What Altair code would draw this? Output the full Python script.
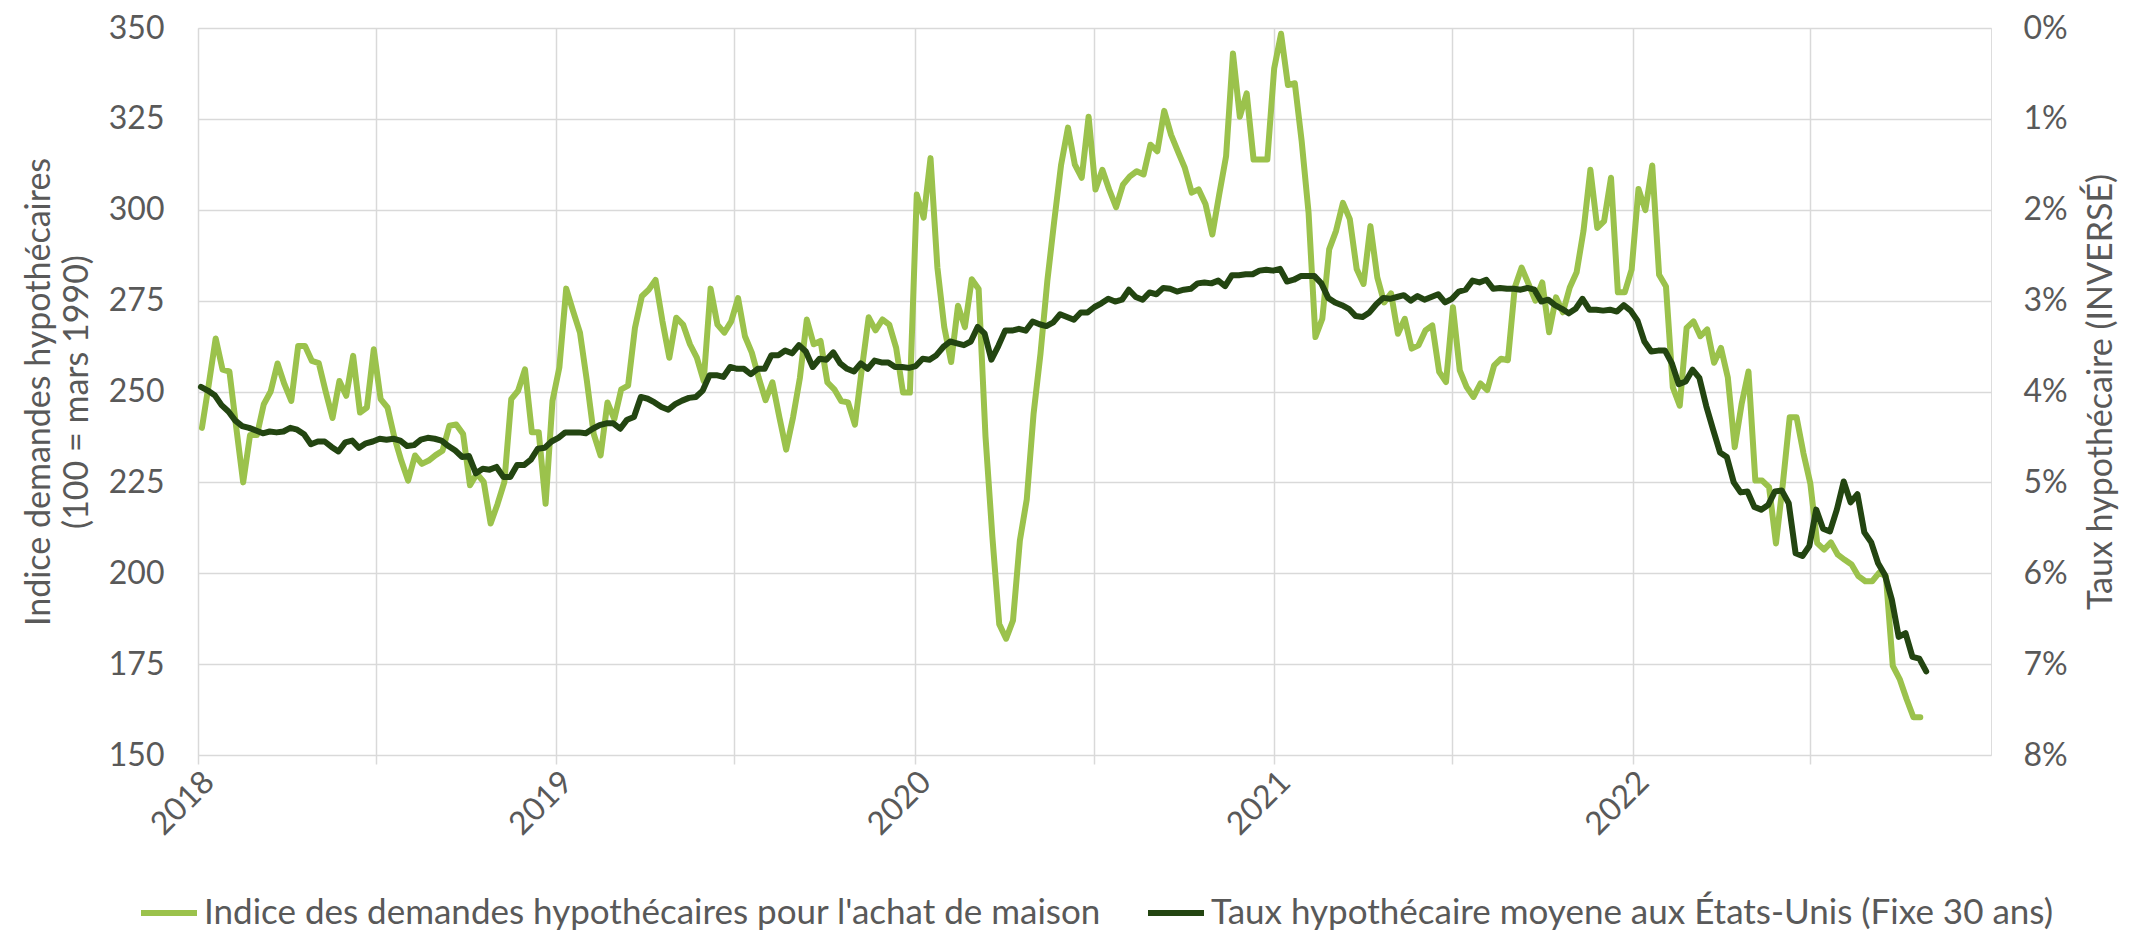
import altair as alt
import pandas as pd

serie_indice = "Indice des demandes hypothécaires pour l'achat de maison"
serie_taux = "Taux hypothécaire moyene aux États-Unis (Fixe 30 ans)"

# Indice des demandes hypothécaires (hebdomadaire)
indice_2018 = [240, 252, 264.6, 256, 255.5, 240, 225, 238, 238, 246.5, 250, 257.7, 252, 247.4,
               262.5, 262.5, 258.4, 257.8, 250, 242.7, 252.9, 248.8, 259.8, 244.2, 245.6, 261.6,
               247.9, 245.6, 237.4, 231, 225.5, 232.4, 230.1, 231, 232.5, 233.7, 240.6, 240.9,
               238.3, 224.2, 227.4, 225.1, 213.7, 219, 225.1, 247.9, 250.2, 256.1, 238.8, 238.8,
               219.1, 247.4, 256.6]
indice_2019 = [278.3, 272.1, 266.2, 253, 238.3, 232.4, 247, 242.4, 250.6, 251.6, 267.5, 276.2,
               278, 280.7, 269.3, 259.3, 270.3, 268.4, 263, 259.3, 252.9, 278.3, 268.4, 266.2,
               269.3, 275.7, 265.2, 260.7, 253.8, 247.6, 252.5, 243, 234, 242.9, 253.8, 269.8,
               263, 263.9, 252.5, 250.6, 247.4, 247, 240.9, 256.1, 270.4, 266.8, 269.8, 268.4,
               262, 249.7, 249.7]
indice_2020 = [304.2, 297.8, 314.2, 284.1, 267.7, 258.1, 273.6, 267.7, 280.9, 278.2, 237.6, 210,
               186, 182, 187, 209, 220.3, 244, 260.4, 280.5, 296.9, 312.4, 322.6, 312.4, 308.8,
               325.6, 305.6, 311, 305.5, 300.7, 306.9, 309.2, 310.6, 309.7, 317.9, 316.1, 327.2,
               320.6, 316, 311.5, 304.7, 305.6, 301.6, 293.2, 304.2, 314.7, 343, 325.6, 332,
               313.8, 313.8, 313.8]
indice_2021 = [338.9, 348.4, 334.3, 334.8, 318.8, 299.2, 265, 270, 289.1, 294.2, 301.9, 297.4,
               283.7, 279.6, 295.5, 281.4, 274.5, 277, 265.9, 270, 261.8, 262.7, 266.8, 268.2,
               255.4, 252.6, 273.2, 255.8, 251.2, 248.5, 252.2, 250.4, 257.2, 259, 258.6, 278.6,
               284.1, 279.6, 275, 280, 266.3, 275.9, 271.8, 278.6, 282.8, 294.2, 311, 295, 296.9,
               308.8, 277.3, 277.3]
indice_2022 = [283.5, 305.7, 299.9, 312.2, 282.1, 278.9, 251.1, 246.1, 267.5, 269.3, 265.2, 267.1,
               257.9, 262, 253.8, 234.7, 246.5, 255.5, 225.5, 225.5, 223.7, 208.2, 224.6, 242.9,
               242.9, 233, 224.7, 208.3, 206.5, 208.5, 205.1, 203.7, 202.4, 199.2, 197.8, 197.8,
               200.1, 199.2, 174.5, 170.9, 165.4, 160.4, 160.4]

# Taux hypothécaire fixe 30 ans (%), hebdomadaire
taux_2018 = [3.95, 3.99, 4.04, 4.15, 4.22, 4.32, 4.38, 4.40, 4.43, 4.46, 4.44, 4.45, 4.44, 4.40,
             4.42, 4.47, 4.58, 4.55, 4.55, 4.61, 4.66, 4.56, 4.54, 4.62, 4.57, 4.55, 4.52, 4.53,
             4.52, 4.54, 4.60, 4.59, 4.53, 4.51, 4.52, 4.54, 4.60, 4.65, 4.72, 4.71, 4.90, 4.85,
             4.86, 4.83, 4.94, 4.94, 4.81, 4.81, 4.75, 4.63, 4.62, 4.55]
taux_2019 = [4.51, 4.45, 4.45, 4.45, 4.46, 4.41, 4.37, 4.35, 4.35, 4.41, 4.31, 4.28, 4.06, 4.08,
             4.12, 4.17, 4.20, 4.14, 4.10, 4.07, 4.06, 3.99, 3.82, 3.82, 3.84, 3.73, 3.75, 3.75,
             3.81, 3.75, 3.75, 3.60, 3.60, 3.55, 3.58, 3.49, 3.56, 3.73, 3.64, 3.65, 3.57, 3.69,
             3.75, 3.78, 3.69, 3.75, 3.66, 3.68, 3.68, 3.73, 3.73, 3.74]
taux_2020 = [3.72, 3.64, 3.65, 3.60, 3.51, 3.45, 3.47, 3.49, 3.45, 3.29, 3.36, 3.65, 3.50, 3.33,
             3.33, 3.31, 3.33, 3.23, 3.26, 3.28, 3.24, 3.15, 3.18, 3.21, 3.13, 3.13, 3.07, 3.03,
             2.98, 3.01, 2.99, 2.88, 2.96, 2.99, 2.91, 2.93, 2.86, 2.87, 2.90, 2.88, 2.87, 2.81,
             2.80, 2.81, 2.78, 2.84, 2.72, 2.72, 2.71, 2.71, 2.67, 2.66, 2.67]
taux_2021 = [2.65, 2.79, 2.77, 2.73, 2.73, 2.73, 2.81, 2.97, 3.02, 3.05, 3.09, 3.17, 3.18, 3.13,
             3.04, 2.97, 2.98, 2.96, 2.94, 3.00, 2.95, 2.99, 2.96, 2.93, 3.02, 2.98, 2.90, 2.88,
             2.78, 2.80, 2.77, 2.87, 2.86, 2.87, 2.87, 2.88, 2.86, 2.88, 3.01, 2.99, 3.05, 3.09,
             3.14, 3.09, 2.98, 3.10, 3.10, 3.11, 3.10, 3.12, 3.05, 3.11]
taux_2022 = [3.22, 3.45, 3.56, 3.55, 3.55, 3.69, 3.92, 3.89, 3.76, 3.85, 4.16, 4.42, 4.67, 4.72,
             5.00, 5.11, 5.10, 5.27, 5.30, 5.25, 5.10, 5.09, 5.23, 5.78, 5.81, 5.70, 5.30, 5.51,
             5.54, 5.30, 4.99, 5.22, 5.13, 5.55, 5.66, 5.89, 6.02, 6.29, 6.70, 6.66, 6.92, 6.94,
             7.08]

indice = indice_2018 + indice_2019 + indice_2020 + indice_2021 + indice_2022
taux = taux_2018 + taux_2019 + taux_2020 + taux_2021 + taux_2022

dates_indice = pd.date_range("2018-01-05", periods=len(indice), freq="7D").strftime("%Y-%m-%d")
dates_taux = pd.date_range("2018-01-04", periods=len(taux), freq="7D").strftime("%Y-%m-%d")

df_i = pd.DataFrame({"date": list(dates_indice), "valeur": indice, "serie": serie_indice})
df_t = pd.DataFrame({"date": list(dates_taux), "taux": [t / 100 for t in taux], "serie": serie_taux})

grid_dates = [alt.DateTime(year=y, month=m, date=1, utc=True)
              for y in [2018, 2019, 2020, 2021, 2022] for m in [1, 7]]
left_ticks = [150, 175, 200, 225, 250, 275, 300, 325, 350]
right_ticks = [0, 0.01, 0.02, 0.03, 0.04, 0.05, 0.06, 0.07, 0.08]

GREEN = "#9BC24C"
DARK = "#234511"
TXT = "#595959"
GRID = "#D9D9D9"
FONT = "Lato"
TICK_FS = 32
TITLE_FS = 34
LEG_FS = 35

x_enc = alt.X(
    "date:T",
    scale=alt.Scale(type="utc",
                    domain=[alt.DateTime(year=2018, month=1, date=1, utc=True),
                            alt.DateTime(year=2023, month=1, date=1, utc=True)]),
    axis=alt.Axis(values=grid_dates,
                  labelExpr="utcmonth(datum.value) == 0 ? utcFormat(datum.value, '%Y') : ''",
                  labelAngle=-45, labelAlign="right", labelBaseline="top",
                  grid=True, gridColor=GRID, gridWidth=1.5,
                  ticks=True, tickSize=9, tickColor=GRID, tickWidth=1.5,
                  domain=False, title=None, labelPadding=2,
                  labelFontSize=TICK_FS, labelColor=TXT, labelFont=FONT),
)

color_enc = alt.Color(
    "serie:N",
    scale=alt.Scale(domain=[serie_indice, serie_taux], range=[GREEN, DARK]),
    legend=alt.Legend(title=None, orient="none", legendX=-60, legendY=854,
                      direction="horizontal", columns=2, columnPadding=34,
                      symbolType="stroke", symbolSize=3136, symbolStrokeWidth=6,
                      labelFontSize=LEG_FS, labelColor=TXT, labelFont=FONT, labelLimit=3000,
                      labelOffset=4),
)

line_i = alt.Chart(df_i).mark_line(strokeWidth=6, strokeJoin="round", strokeCap="round").encode(
    x=x_enc,
    y=alt.Y("valeur:Q",
            scale=alt.Scale(domain=[150, 350], nice=False, zero=False),
            axis=alt.Axis(values=left_ticks, title=["Indice demandes hypothécaires", "(100 = mars 1990)"],
                          grid=True, gridColor=GRID, gridWidth=1.5, ticks=False, domain=False,
                          labelPadding=34, titlePadding=14, labelFontSize=TICK_FS, labelColor=TXT,
                          labelFont=FONT, titleFontSize=TITLE_FS, titleColor=TXT, titleFont=FONT,
                          titleFontWeight="normal", titleLineHeight=38)),
    color=color_enc,
)

line_t = alt.Chart(df_t).mark_line(strokeWidth=6, strokeJoin="round", strokeCap="round").encode(
    x=x_enc,
    y=alt.Y("taux:Q",
            scale=alt.Scale(domain=[0, 0.08], reverse=True, nice=False, zero=False),
            axis=alt.Axis(orient="right", values=right_ticks, format=".0%",
                          title="Taux hypothécaire (INVERSÉ)", titleAngle=270, titleBaseline="top",
                          grid=False, ticks=False, domain=False,
                          labelPadding=32, titlePadding=17, labelFontSize=TICK_FS, labelColor=TXT,
                          labelFont=FONT, titleFontSize=TITLE_FS, titleColor=TXT, titleFont=FONT,
                          titleFontWeight="normal")),
    color=color_enc,
)

chart = alt.layer(line_i, line_t).resolve_scale(y="independent").properties(
    width=1793, height=727,
    padding={"left": 14, "top": 4, "right": 0, "bottom": 0},
    background="white",
).configure_view(stroke=None).configure(font=FONT)

chart.save("out.html", embed_options={"renderer": "svg", "actions": False})
